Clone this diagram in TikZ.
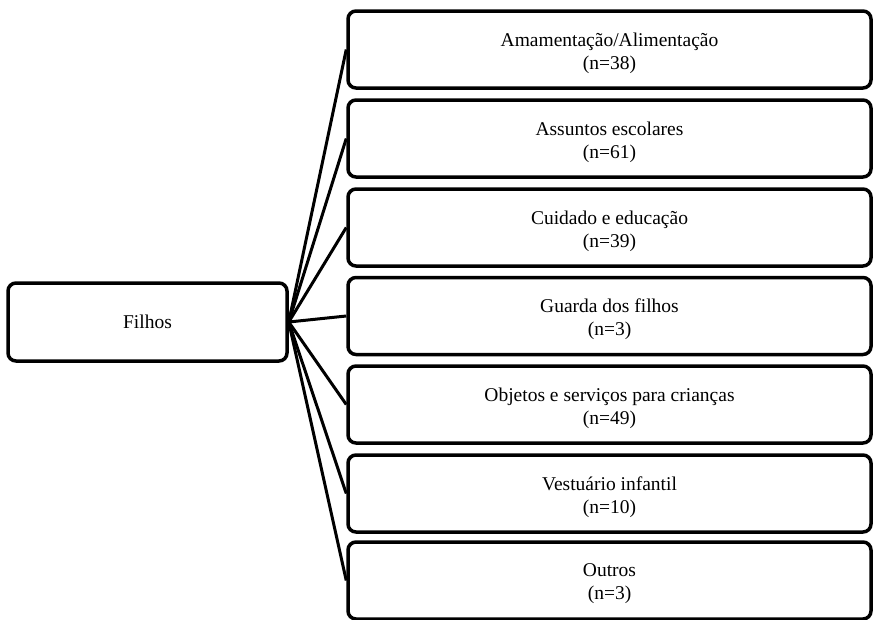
\documentclass[tikz,border=0pt]{standalone}
\usepackage{fontspec}
\setmainfont{Liberation Serif}
\begin{document}
\begin{tikzpicture}[x=1pt,y=-1pt,
  box/.style={draw=black, line width=3.5pt, rounded corners=8pt, fill=white,
    inner sep=0pt, align=center, font=\fontsize{19.5}{23}\selectfont},
  catbox/.style={box, minimum width=523pt, minimum height=77pt},
  cattext/.style={align=center, inner sep=0pt, font=\fontsize{19.5}{23}\selectfont},
  link/.style={draw=black, line width=3pt}]
\useasboundingbox (0,0) rectangle (875,619);
\node[box, minimum width=279pt, minimum height=78pt] (filhos) at (147.5,322) {Filhos};
\node[catbox] (b1) at (609.5,49.5) {};
\node[catbox] (b2) at (609.5,138.5) {};
\node[catbox] (b3) at (609.5,227.5) {};
\node[catbox] (b4) at (609.5,316) {};
\node[catbox] (b5) at (609.5,404.5) {};
\node[catbox] (b6) at (609.5,493.5) {};
\node[catbox] (b7) at (609.5,580.5) {};
\node[cattext] (t1) at ([yshift=-3.5pt]b1.center) {Amamentação/Alimentação\\(n=38)};
\node[cattext] (t2) at ([yshift=-3.5pt]b2.center) {Assuntos escolares\\(n=61)};
\node[cattext] (t3) at ([yshift=-3.5pt]b3.center) {Cuidado e educação\\(n=39)};
\node[cattext] (t4) at ([yshift=-3.5pt]b4.center) {Guarda dos filhos\\(n=3)};
\node[cattext] (t5) at ([yshift=-3.5pt]b5.center) {Objetos e serviços para crianças\\(n=49)};
\node[cattext] (t6) at ([yshift=-3.5pt]b6.center) {Vestuário infantil\\(n=10)};
\node[cattext] (t7) at ([yshift=-3.5pt]b7.center) {Outros\\(n=3)};
\foreach \i in {1,...,7} {
  \draw[link] (filhos.east) -- (b\i.west);
}
\end{tikzpicture}
\end{document}
